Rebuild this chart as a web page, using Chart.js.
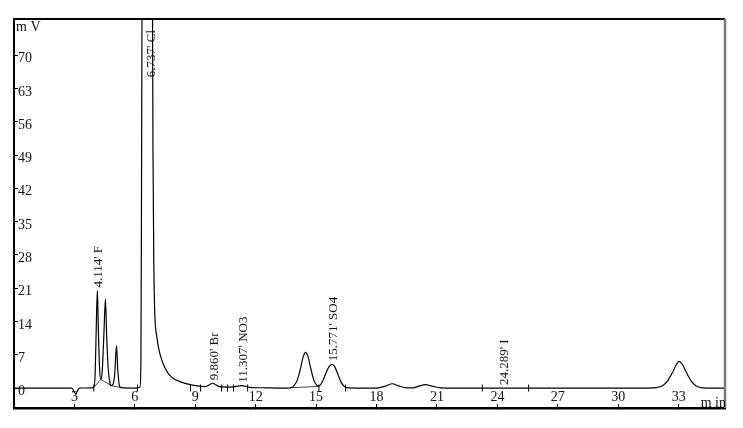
<!DOCTYPE html>
<html>
<head>
<meta charset="utf-8">
<script src="https://cdn.jsdelivr.net/npm/chart.js@4.4.0/dist/chart.umd.min.js"></script>
<style>
  html, body { margin: 0; padding: 0; background: #fff; }
</style>
</head>
<body>
<canvas id="chromChart" width="743" height="428"></canvas>
<script>
// Detector trace: retention time (min) and signal (mV)
const traceTime = [
  0, 2.87, 3.05, 3.25, 3.96, 4.03, 4.09, 4.14, 4.19, 4.25, 4.31, 4.38, 4.46, 4.54, 4.6, 4.68, 4.76, 4.83,
  4.92, 5.0, 5.09, 5.15, 5.22, 5.3, 6.1, 6.25, 6.3, 6.33, 6.37, 6.6, 6.86, 6.9, 6.94, 6.98, 7.1, 7.27,
  7.52, 7.82, 8.27, 8.86, 9.5, 9.86, 10.2, 10.8, 11.3, 11.7, 12.5, 13.6, 13.85, 14.05, 14.22, 14.36,
  14.48, 14.6, 14.74, 14.9, 15.05, 15.14, 15.25, 15.38, 15.52, 15.66, 15.79, 15.92, 16.07, 16.22, 16.38,
  16.55, 17.8, 18.1, 18.45, 18.78, 19.1, 19.5, 19.8, 20.1, 20.42, 20.75, 21.2, 21.5, 31.5, 31.9, 32.2,
  32.45, 32.7, 32.88, 33.02, 33.18, 33.38, 33.62, 33.85, 34.1, 34.4, 35.3
];
const traceMv = [
  0, 0, -1.2, 0, 0.1, 3, 14, 20.5, 12, 4, 1.8, 3.5, 11, 18.7, 11, 4, 1.2, 0.5,
  0.8, 3, 8.9, 4, 0.8, 0.1, 0, 0.2, 5, 40, 100, 170, 100, 50, 27, 17, 10.5, 6.8,
  4.0, 2.3, 1.3, 0.6, 0.3, 1.0, 0.3, 0.2, 0.5, 0.15, 0.05, 0, 0.3, 1.5, 4, 6.6,
  7.5, 6.6, 4, 1.5, 0.5, 0.4, 0.9, 2.0, 3.5, 4.6, 5.0, 4.5, 3, 1.4, 0.4,
  0.05, 0, 0.05, 0.4, 0.9, 0.45, 0.05, 0.05, 0.4, 0.7, 0.4, 0.03, 0, 0, 0.1, 0.5,
  1.5, 3.3, 4.9, 5.6, 5.0, 3.3, 1.5, 0.5, 0.1, 0, 0
];

// Integration baselines drawn under some peaks (null = break)
const baseTime = [3.96, 4.31, 4.83, 5.3, 10, 13.7, 15.14];
const baseMv = [0.1, 1.8, 0.5, 0.1, null, 0.05, 0.35];

// Peak start / end markers on the baseline
const markerTime = [3.96, 6.13, 8.76, 9.26, 10.3, 10.6, 10.9, 11.6, 15.14, 16.46, 23.25, 25.55];

// Named peaks
const peakTimes = [4.114, 6.737, 9.860, 11.307, 15.771, 24.289];
const peakNames = ['F', 'Cl', 'Br', 'NO3', 'SO4', 'I'];
const peakHeights = [20.5, 170, 1.0, 0.5, 5.0, 0];

// Axis ticks
const xTickValues = [3, 6, 9, 12, 15, 18, 21, 24, 27, 30, 33];
const yTickValues = [0, 7, 14, 21, 28, 35, 42, 49, 56, 63, 70];

const serif = 'Liberation Serif';

const framePlugin = {
  id: 'frame',
  afterDraw(chart) {
    const { ctx, chartArea: a, scales: { x, y } } = chart;
    ctx.save();
    // top and right edges of the frame
    ctx.strokeStyle = '#000';
    ctx.lineWidth = 2;
    ctx.beginPath();
    ctx.moveTo(a.left - 1, a.top);
    ctx.lineTo(a.right, a.top);
    ctx.stroke();
    ctx.strokeStyle = '#7a7a7a';
    ctx.lineWidth = 2.5;
    ctx.beginPath();
    ctx.moveTo(a.right, a.top);
    ctx.lineTo(a.right, a.bottom);
    ctx.stroke();

    // rotated peak labels
    ctx.fillStyle = '#111';
    ctx.font = '13px "' + serif + '"';
    ctx.textAlign = 'left';
    ctx.textBaseline = 'middle';
    peakTimes.forEach((t, i) => {
      const text = t.toFixed(3) + "' " + peakNames[i];
      const w = ctx.measureText(text).width;
      let py = y.getPixelForValue(peakHeights[i]) - 3;
      py = Math.max(py, a.top + 11 + w);
      const px = x.getPixelForValue(t) + 1.5;
      ctx.save();
      ctx.translate(px, py);
      ctx.rotate(-Math.PI / 2);
      ctx.fillText(text, 0, 0);
      ctx.restore();
    });

    // unit labels
    ctx.font = '14px "' + serif + '"';
    ctx.textBaseline = 'alphabetic';
    ctx.fillText('m V', a.left + 2, a.top + 12);
    ctx.textAlign = 'right';
    ctx.fillText('m in', a.right + 1, a.bottom - 1);
    ctx.restore();
  }
};

const ctx = document.getElementById('chromChart').getContext('2d');
new Chart(ctx, {
  type: 'line',
  data: {
    datasets: [
      {
        label: 'Signal',
        data: traceTime.map((t, i) => ({ x: t, y: traceMv[i] })),
        borderColor: '#000',
        borderWidth: 1.2,
        pointRadius: 0,
        cubicInterpolationMode: 'monotone',
        fill: false
      },
      {
        label: 'Baseline',
        data: baseTime.map((t, i) => ({ x: t, y: baseMv[i] })),
        borderColor: '#444',
        borderWidth: 1,
        pointRadius: 0,
        tension: 0,
        spanGaps: false,
        fill: false
      },
      {
        label: 'Markers',
        data: markerTime.map(t => ({ x: t, y: 0 })),
        showLine: false,
        pointStyle: 'line',
        rotation: 90,
        pointRadius: 3.5,
        borderColor: '#000',
        borderWidth: 1
      }
    ]
  },
  options: {
    responsive: false,
    animation: false,
    events: [],
    layout: { padding: { left: 14, top: 19, right: 18, bottom: 20 } },
    plugins: {
      legend: { display: false },
      tooltip: { enabled: false }
    },
    scales: {
      x: {
        type: 'linear',
        min: 0,
        max: 35.3,
        afterBuildTicks: s => { s.ticks = xTickValues.map(v => ({ value: v })); },
        afterFit: s => { s.height = 0; },
        grid: { drawOnChartArea: false, tickLength: -4, color: '#000' },
        border: { color: '#000', width: 2.5 },
        ticks: {
          mirror: true,
          padding: 2,
          autoSkip: false,
          maxRotation: 0,
          color: '#111',
          font: { family: serif, size: 14 }
        }
      },
      y: {
        type: 'linear',
        min: -4.2,
        max: 77.6,
        afterBuildTicks: s => { s.ticks = yTickValues.map(v => ({ value: v })); },
        afterFit: s => { s.width = 0; },
        grid: { drawOnChartArea: false, tickLength: -4, color: '#000' },
        border: { color: '#000', width: 2 },
        ticks: {
          mirror: true,
          padding: 4,
          labelOffset: 3.5,
          autoSkip: false,
          color: '#111',
          font: { family: serif, size: 14 }
        }
      }
    }
  },
  plugins: [framePlugin]
});
</script>
</body>
</html>
